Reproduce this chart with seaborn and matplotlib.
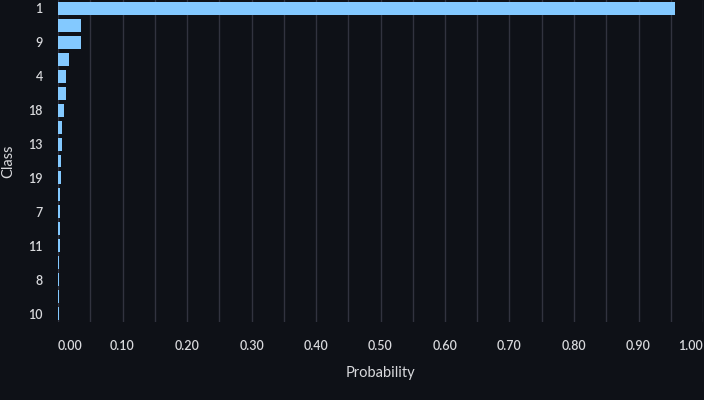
import numpy as np
import pandas as pd

import matplotlib
matplotlib.use("Agg")
import matplotlib.pyplot as plt
import seaborn as sns

# class labels, top to bottom, and their predicted probabilities
classes = ["1", "3", "9", "2", "4", "6", "18", "5", "13", "12",
           "19", "14", "7", "15", "11", "16", "8", "17", "10"]
probs = [0.9570, 0.0357, 0.0350, 0.0175, 0.0120, 0.0118, 0.0100, 0.0060, 0.0057, 0.0047,
         0.0042, 0.0031, 0.0030, 0.0028, 0.0025, 0.0020, 0.0018, 0.0017, 0.0015]
x_ticks = [0.0, 0.1, 0.2, 0.3, 0.4, 0.5, 0.6, 0.7, 0.8, 0.9, 1.0]
x_tick_labels = ["0.00", "0.10", "0.20", "0.30", "0.40", "0.50", "0.60", "0.70", "0.80", "0.90", "1.00"]

BG = "#0e1117"
BAR = "#83c9ff"
TEXT = "#d8d9dc"
GRID = "#31333f"

df = pd.DataFrame({"Class": classes, "Probability": probs})

sns.set_style("dark")
plt.rcParams["font.family"] = ["Lato", "DejaVu Sans"]

fig = plt.figure(figsize=(7.04, 4.00), dpi=100, facecolor=BG)
ax = fig.add_axes([58 / 704, 78 / 400, 645 / 704, 322 / 400])
ax.set_facecolor(BG)

sns.barplot(data=df, x="Probability", y="Class", order=classes, orient="h",
            color=BAR, saturation=1, width=0.766, linewidth=0, ax=ax)

ax.set_xlim(0, 1)
ax.set_xticks(x_ticks)
ax.set_xticks(np.arange(0.05, 1.0, 0.1), minor=True)
ax.set_xticklabels(x_tick_labels)
ax.grid(False)
ax.grid(axis="x", which="both", color=GRID, linewidth=1)
ax.set_axisbelow(True)
for sp in ax.spines.values():
    sp.set_visible(False)

ax.tick_params(axis="both", which="both", length=0, colors=TEXT, labelsize=9)
ax.tick_params(axis="x", pad=13)
ax.tick_params(axis="y", pad=11)
for lab in ax.get_xticklabels():
    lab.set_fontweight("semibold")
labels = ax.get_xticklabels()
labels[0].set_ha("left")
labels[-1].set_ha("right")

ax.set_yticks(range(0, len(classes), 2))
ax.set_yticklabels(classes[::2], fontweight="semibold")

ax.set_xlabel("Probability", color=TEXT, fontsize=10.5, labelpad=10)
ax.set_ylabel("Class", color=TEXT, fontsize=10.5, labelpad=9)

fig.savefig("out.png", dpi=100, facecolor=BG)
